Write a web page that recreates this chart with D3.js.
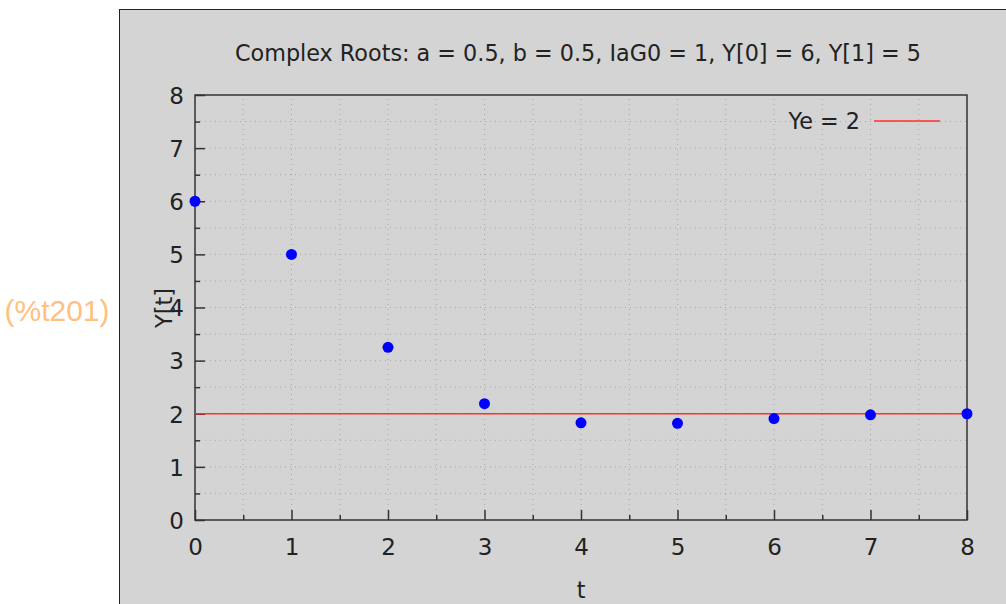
<!DOCTYPE html>
<html><head><meta charset="utf-8">
<script src="https://cdn.jsdelivr.net/npm/d3@7"></script>
<style>html,body{margin:0;padding:0;background:#fff;}svg{display:block;}</style>
</head><body>
<script>
const tValues = [0, 1, 2, 3, 4, 5, 6, 7, 8];
const yValues = [6, 5, 3.25, 2.19, 1.83, 1.82, 1.91, 1.98, 2.0];
const yeValue = 2;
const xTicks = [0, 1, 2, 3, 4, 5, 6, 7, 8];
const yTicks = [0, 1, 2, 3, 4, 5, 6, 7, 8];
const minorTicks = [0.5, 1.5, 2.5, 3.5, 4.5, 5.5, 6.5, 7.5];
const titleText = "Complex Roots: a = 0.5, b = 0.5, IaG0 = 1, Y[0] = 6, Y[1] = 5";
const legendText = "Ye = 2";
const labelText = "(%t201)";

const W = 1006, H = 604;
const svg = d3.select("body").append("svg").attr("width", W).attr("height", H);
const font = "'DejaVu Sans', sans-serif";
const fs = 22.3;

// outer label
svg.append("text").attr("x", 57).attr("y", 321).attr("text-anchor", "middle")
  .attr("font-family", "'Liberation Sans', Arial, sans-serif").attr("font-size", 30)
  .attr("fill", "#ffc080").text(labelText);

// panel
svg.append("rect").attr("x", 119.5).attr("y", 9.5).attr("width", W).attr("height", H)
  .attr("fill", "#d4d4d4").attr("stroke", "#222").attr("stroke-width", 1);

const x = d3.scaleLinear().domain([0, 8]).range([195, 967]);
const y = d3.scaleLinear().domain([0, 8]).range([520, 95]);

// grid
const g = svg.append("g");
const gridVals = [...xTicks, ...minorTicks];
g.selectAll("line.gx").data(gridVals.filter(v => v > 0 && v < 8)).join("line")
  .attr("x1", d => x(d)).attr("x2", d => x(d)).attr("y1", y(0)).attr("y2", y(8))
  .attr("stroke", "#a8a8a8").attr("stroke-width", 1).attr("stroke-dasharray", "1,4");
g.selectAll("line.gy").data(gridVals.filter(v => v > 0 && v < 8)).join("line")
  .attr("y1", d => y(d)).attr("y2", d => y(d)).attr("x1", x(0)).attr("x2", x(8))
  .attr("stroke", "#a8a8a8").attr("stroke-width", 1).attr("stroke-dasharray", "1,4");

// axes with inward ticks
const xAxis = svg.append("g").attr("transform", `translate(0,${y(0)})`)
  .call(d3.axisBottom(x).tickValues(xTicks).tickSize(-10).tickPadding(19).tickFormat(d3.format("d")));
const xMinor = svg.append("g").attr("transform", `translate(0,${y(0)})`)
  .call(d3.axisBottom(x).tickValues(minorTicks).tickSize(-5).tickFormat(""));
const yAxis = svg.append("g").attr("transform", `translate(${x(0)},0)`)
  .call(d3.axisLeft(y).tickValues(yTicks).tickSize(-10).tickPadding(11).tickFormat(d3.format("d")));
const yMinor = svg.append("g").attr("transform", `translate(${x(0)},0)`)
  .call(d3.axisLeft(y).tickValues(minorTicks).tickSize(-5).tickFormat(""));
[xAxis, xMinor, yAxis, yMinor].forEach(a => {
  a.select(".domain").remove();
  a.selectAll(".tick line").attr("stroke", "#333").attr("stroke-width", 1.5);
  a.selectAll("text").attr("font-family", font).attr("font-size", 23).attr("fill", "#222");
});
xAxis.selectAll("text").attr("dy", "0.71em");
yAxis.selectAll("text").attr("dy", "0.36em");

// frame
svg.append("rect").attr("x", x(0)).attr("y", y(8)).attr("width", x(8) - x(0)).attr("height", y(0) - y(8))
  .attr("fill", "none").attr("stroke", "#333").attr("stroke-width", 1.5);

// Ye line
svg.append("line").attr("x1", x(0)).attr("x2", x(8)).attr("y1", y(yeValue)).attr("y2", y(yeValue))
  .attr("stroke", "#ff3030").attr("stroke-width", 1.5);

// points
svg.selectAll("circle.pt").data(tValues).join("circle")
  .attr("cx", (d) => x(d)).attr("cy", (d, i) => y(yValues[i])).attr("r", 5.5)
  .attr("fill", "#0000ff");

// legend
svg.append("text").attr("x", 860).attr("y", 129).attr("text-anchor", "end")
  .attr("font-family", font).attr("font-size", fs).attr("fill", "#222").text(legendText);
svg.append("line").attr("x1", 874).attr("x2", 940).attr("y1", 121).attr("y2", 121)
  .attr("stroke", "#ff3030").attr("stroke-width", 1.5);

// title
const title = svg.append("text").attr("x", 578).attr("y", 61).attr("text-anchor", "middle")
  .attr("font-family", font).attr("font-size", fs).attr("fill", "#222").text(titleText);

// axis labels
svg.append("text").attr("x", 581).attr("y", 598).attr("text-anchor", "middle")
  .attr("font-family", font).attr("font-size", fs).attr("fill", "#222").text("t");
svg.append("text").attr("transform", "translate(172,308) rotate(-90)").attr("text-anchor", "middle")
  .attr("font-family", font).attr("font-size", fs).attr("fill", "#222").text("Y[t]");
</script>
</body></html>
